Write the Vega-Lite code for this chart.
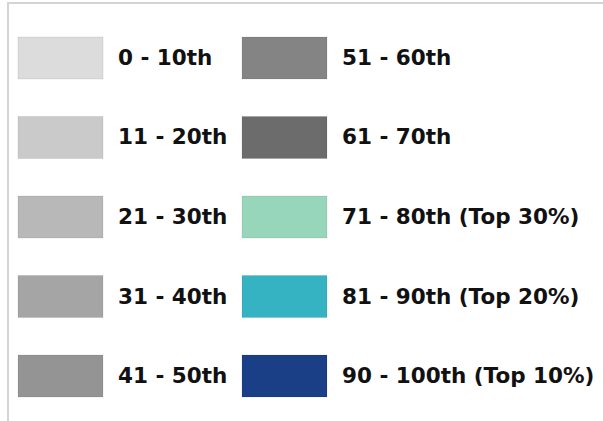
{
  "$schema": "https://vega.github.io/schema/vega-lite/v6.json",
  "width": 600,
  "height": 425,
  "autosize": {"type": "none"},
  "padding": {"left": 8, "top": 3, "right": 0, "bottom": 0},
  "background": "white",
  "config": {
    "view": {"stroke": "#d4d4d4", "strokeWidth": 2}
  },
  "data": {
    "values": [
      {"label": "0 - 10th", "col": "a", "row": 0, "color": "#dcdcdc"},
      {"label": "11 - 20th", "col": "a", "row": 1, "color": "#cacaca"},
      {"label": "21 - 30th", "col": "a", "row": 2, "color": "#b8b8b8"},
      {"label": "31 - 40th", "col": "a", "row": 3, "color": "#a5a5a5"},
      {"label": "41 - 50th", "col": "a", "row": 4, "color": "#949494"},
      {"label": "51 - 60th", "col": "b", "row": 0, "color": "#848484"},
      {"label": "61 - 70th", "col": "b", "row": 1, "color": "#6c6c6c"},
      {"label": "71 - 80th (Top 30%)", "col": "b", "row": 2, "color": "#98d6bb"},
      {"label": "81 - 90th (Top 20%)", "col": "b", "row": 3, "color": "#35b3c3"},
      {"label": "90 - 100th (Top 10%)", "col": "b", "row": 4, "color": "#1b3f87"}
    ]
  },
  "encoding": {
    "x": {"field": "col", "type": "nominal", "axis": null,
          "scale": {"type": "band", "range": [10, 319], "paddingInner": 0.6205, "paddingOuter": 0}},
    "y": {"field": "row", "type": "ordinal", "axis": null,
          "scale": {"type": "band", "range": [34, 394], "paddingInner": 0.4717, "paddingOuter": 0}}
  },
  "layer": [
    {
      "mark": {"type": "rect", "stroke": "#000000", "strokeOpacity": 0.08, "strokeWidth": 1},
      "encoding": {
        "color": {"field": "color", "type": "nominal", "scale": null, "legend": null}
      }
    },
    {
      "mark": {"type": "text", "align": "left", "baseline": "middle", "dx": 57.5, "dy": 1,
               "font": "DejaVu Sans", "fontWeight": "bold", "fontSize": 21.5, "color": "#111111"},
      "encoding": {
        "text": {"field": "label", "type": "nominal"}
      }
    }
  ]
}
